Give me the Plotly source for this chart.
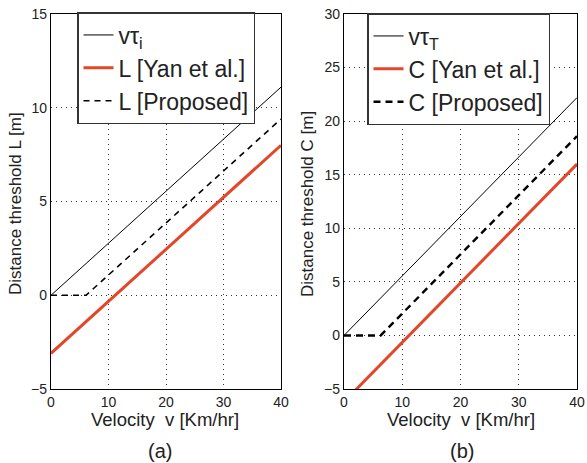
import plotly.graph_objects as go

# ---- data ----
v_line = [0, 40]
vtau_i = [0, 11.1]
L_yan = [-3.1, 8.0]
v_prop_a = [0, 6.1, 40]
L_prop = [0, 0, 9.4]

vtau_T = [0, 22.2]
C_yan = [-6.2, 16.0]
v_prop_b = [0, 6.3, 40]
C_prop = [0, 0, 18.6]

x_ticks = [0, 10, 20, 30, 40]
ya_ticks = [-5, 0, 5, 10, 15]
yb_ticks = [-5, 0, 5, 10, 15, 20, 25, 30]

RED = "#E2472A"
FONT = "Liberation Sans, Arial, sans-serif"
TXT = "#222222"

W, H = 587, 463

fig = go.Figure()

# panel (a)
fig.add_trace(go.Scatter(x=v_line, y=vtau_i, mode="lines", name="vτ<sub>i</sub>",
                         line=dict(color="black", width=1), xaxis="x", yaxis="y", legend="legend"))
fig.add_trace(go.Scatter(x=v_line, y=L_yan, mode="lines", name="L [Yan et al.]",
                         line=dict(color=RED, width=3), xaxis="x", yaxis="y", legend="legend"))
fig.add_trace(go.Scatter(x=v_prop_a, y=L_prop, mode="lines", name="L [Proposed]",
                         line=dict(color="black", width=1.6, dash="6px,5px"), xaxis="x", yaxis="y", legend="legend"))

# panel (b)
fig.add_trace(go.Scatter(x=v_line, y=vtau_T, mode="lines", name="vτ<sub>T</sub>",
                         line=dict(color="black", width=1), xaxis="x2", yaxis="y2", legend="legend2"))
fig.add_trace(go.Scatter(x=v_line, y=C_yan, mode="lines", name="C [Yan et al.]",
                         line=dict(color=RED, width=3), xaxis="x2", yaxis="y2", legend="legend2"))
fig.add_trace(go.Scatter(x=v_prop_b, y=C_prop, mode="lines", name="C [Proposed]",
                         line=dict(color="black", width=2.4, dash="7px,5px"), xaxis="x2", yaxis="y2", legend="legend2"))


def px_x(p):
    return p / W


def px_y(p):
    return 1 - p / H


axis_common = dict(
    automargin=False,
    showline=True, mirror=True, linecolor="black", linewidth=1.3,
    showgrid=True, gridcolor="#333333", gridwidth=1, griddash="1px,4px",
    zeroline=False, ticks="",
    ticklabeloverflow="allow",
    tickfont=dict(family=FONT, size=14, color=TXT),
)

y_dom = [px_y(389), px_y(14)]

legend_common = dict(xanchor="left", yanchor="top",
                     bgcolor="white", bordercolor="#333333", borderwidth=1.5,
                     font=dict(family=FONT, size=23, color=TXT), itemwidth=30, tracegroupgap=0)

fig.update_layout(
    width=W, height=H,
    margin=dict(l=0, r=0, t=0, b=0, autoexpand=False),
    paper_bgcolor="white", plot_bgcolor="white",
    font=dict(family=FONT, color=TXT),
    xaxis=dict(domain=[px_x(51), px_x(281)], range=[0, 40], tickvals=x_ticks, anchor="y", **axis_common),
    yaxis=dict(domain=y_dom, range=[-5, 15], tickvals=ya_ticks, anchor="x", **axis_common),
    xaxis2=dict(domain=[px_x(344), px_x(577)], range=[0, 40], tickvals=x_ticks, anchor="y2", **axis_common),
    yaxis2=dict(domain=y_dom, range=[-5, 30], tickvals=yb_ticks, anchor="x2", **axis_common),
    legend=dict(x=px_x(77), y=px_y(12), **legend_common),
    legend2=dict(x=px_x(367), y=px_y(13), **legend_common),
    showlegend=True,
)

ann_font = dict(family=FONT, size=18.5, color=TXT)
annotations = [
    dict(text="Velocity  v [Km/hr]", x=px_x(165), y=px_y(419), xref="paper", yref="paper",
         showarrow=False, font=ann_font, xanchor="center", yanchor="middle"),
    dict(text="Velocity  v [Km/hr]", x=px_x(461), y=px_y(419), xref="paper", yref="paper",
         showarrow=False, font=ann_font, xanchor="center", yanchor="middle"),
    dict(text="(a)", x=px_x(160), y=px_y(451), xref="paper", yref="paper",
         showarrow=False, font=dict(family=FONT, size=20, color=TXT), xanchor="center", yanchor="middle"),
    dict(text="(b)", x=px_x(462), y=px_y(451), xref="paper", yref="paper",
         showarrow=False, font=dict(family=FONT, size=20, color=TXT), xanchor="center", yanchor="middle"),
    dict(text="Distance threshold L [m]", x=px_x(16), y=px_y(204), xref="paper", yref="paper",
         showarrow=False, font=dict(family=FONT, size=17, color=TXT), textangle=-90,
         xanchor="center", yanchor="middle"),
    dict(text="Distance threshold C [m]", x=px_x(308), y=px_y(204), xref="paper", yref="paper",
         showarrow=False, font=dict(family=FONT, size=17, color=TXT), textangle=-90,
         xanchor="center", yanchor="middle"),
]
fig.update_layout(annotations=annotations)

# remove the browser's default 8px body margin so the figure fills the window
fig.write_html("out.html", config={"displayModeBar": False},
               post_script="document.body.style.margin='0px';")
